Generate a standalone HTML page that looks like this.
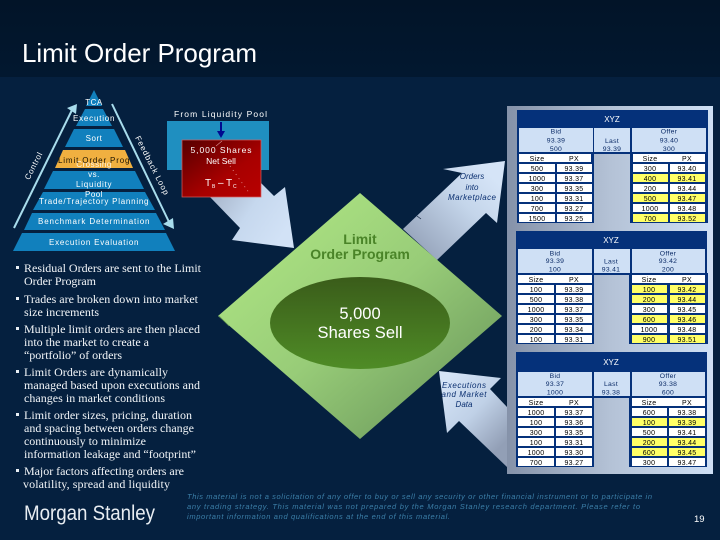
<!DOCTYPE html>
<html>
<head>
<meta charset="utf-8">
<title>Limit Order Program</title>
<style>
html,body{margin:0;padding:0;background:#05203f;}
svg{display:block;}
text{font-family:"Liberation Sans",sans-serif;}
.s{font-family:"Liberation Serif",serif;font-size:12px;fill:#f2f5f8;}
.p{font-size:8px;fill:#fff;text-anchor:middle;letter-spacing:.5px;}
.c{font-size:7px;fill:#000;text-anchor:middle;letter-spacing:.3px;}
.h{font-size:6.8px;fill:#0a2a66;text-anchor:middle;letter-spacing:.3px;}
.i{font-size:8px;font-style:italic;fill:#0a2f70;text-anchor:middle;}
.d{font-size:7.5px;font-style:italic;fill:#3c7fa8;}
.w{fill:#fff;}
.y{fill:#ffff66;}
.b{fill:#cfe0f5;}
.n{fill:#05317a;}
</style>
</head>
<body>
<svg width="720" height="540" viewBox="0 0 720 540" xmlns="http://www.w3.org/2000/svg">
<defs>
<linearGradient id="top" x1="0" y1="0" x2="0" y2="1"><stop offset="0" stop-color="#021428"/><stop offset="1" stop-color="#021830"/></linearGradient>
<linearGradient id="panel" x1="0" y1="0" x2="1" y2="0"><stop offset="0" stop-color="#8592a9"/><stop offset=".5" stop-color="#b4c2d6"/><stop offset="1" stop-color="#cfe0f5"/></linearGradient>
<linearGradient id="red" x1="0" y1="0" x2="1" y2="1"><stop offset="0" stop-color="#560000"/><stop offset=".6" stop-color="#a80000"/><stop offset="1" stop-color="#b80000"/></linearGradient>
<linearGradient id="green" x1="0.1" y1="0.1" x2="0.9" y2="0.9"><stop offset="0" stop-color="#aee583"/><stop offset=".5" stop-color="#98cc78"/><stop offset="1" stop-color="#6c9a5c"/></linearGradient>
<linearGradient id="oval" x1="0" y1="0" x2="0" y2="1"><stop offset="0" stop-color="#3a5c1a"/><stop offset="1" stop-color="#4f8c26"/></linearGradient>
<linearGradient id="a1" gradientUnits="userSpaceOnUse" x1="212" y1="195" x2="280" y2="240"><stop offset="0" stop-color="#a8b6cb"/><stop offset=".5" stop-color="#c6d8ee"/><stop offset="1" stop-color="#d2e2f6"/></linearGradient>
<linearGradient id="a2" gradientUnits="userSpaceOnUse" x1="420" y1="245" x2="490" y2="175"><stop offset="0" stop-color="#9aa8bf"/><stop offset=".6" stop-color="#c4d5ea"/><stop offset="1" stop-color="#d5e4f7"/></linearGradient>
<linearGradient id="a3" gradientUnits="userSpaceOnUse" x1="445" y1="380" x2="507" y2="440"><stop offset="0" stop-color="#d5e4f7"/><stop offset=".5" stop-color="#c0d1e7"/><stop offset="1" stop-color="#929fb6"/></linearGradient>
</defs>

<rect width="720" height="540" fill="#05203f"/>
<rect width="720" height="77" fill="url(#top)"/>
<text x="22" y="62" font-size="26" fill="#fff" textLength="235">Limit Order Program</text>

<!-- pyramid -->
<polygon points="94,90 102,106 86,106" fill="#1180bd"/>
<polygon points="85,109 103,109 112,126 76,126" fill="#1180bd"/>
<polygon points="74,129 114,129 123,147 65,147" fill="#1180bd"/>
<polygon points="63,150 125,150 133,168 55,168" fill="#f0b040"/>
<polygon points="53,171 135,171 144,189 44,189" fill="#1180bd"/>
<polygon points="43,192 145,192 155,210 33,210" fill="#1180bd"/>
<polygon points="32,213 156,213 165,230 24,230" fill="#1180bd"/>
<polygon points="22,233 166,233 175,251 13,251" fill="#1180bd"/>

<line x1="14" y1="228" x2="73" y2="108" stroke="#a8dcec" stroke-width="2"/>
<polygon points="77,104 67,108 76,114" fill="#a8dcec"/>
<line x1="112" y1="104" x2="170" y2="224" stroke="#a8dcec" stroke-width="2"/>
<polygon points="174,229 163,224 173,218" fill="#a8dcec"/>

<text class="p" x="94" y="105">TCA</text>
<text class="p" x="94" y="121" textLength="42">Execution</text>
<text class="p" x="94" y="141">Sort</text>
<text class="p" x="94" y="167" style="opacity:.85">Crossing</text>
<text class="p" x="94" y="163" style="fill:#1a1200" textLength="72">Limit Order Prog</text>
<text class="p" x="94" y="177">vs.</text>
<text class="p" x="94" y="187" textLength="36">Liquidity</text>
<text class="p" x="94" y="197">Pool</text>
<text class="p" x="94" y="204" textLength="110">Trade/Trajectory Planning</text>
<text class="p" x="94" y="224" textLength="112">Benchmark Determination</text>
<text class="p" x="94" y="245" textLength="90">Execution Evaluation</text>
<text class="p" transform="translate(36,167) rotate(-63)" style="letter-spacing:.6px">Control</text>
<text class="p" transform="translate(150,167) rotate(63)" style="letter-spacing:1.2px" textLength="66">Feedback Loop</text>

<!-- liquidity pool -->
<text x="174" y="117" font-size="8.5" fill="#fff" textLength="93">From Liquidity Pool</text>
<polygon points="210,197 240,228 232,240 294,248 285,187 274,196 261,183" fill="url(#a1)"/>
<rect x="167" y="121" width="102" height="49" fill="#1f8fc0"/>
<rect x="182" y="140" width="79" height="57" fill="url(#red)" stroke="#d86060" stroke-width=".7"/>
<line x1="221" y1="122" x2="221" y2="135" stroke="#000a90" stroke-width="2"/>
<polygon points="217,131 225,131 221,138" fill="#000a90"/>
<line x1="216" y1="146" x2="222" y2="141" stroke="#d89090" stroke-width=".6"/>
<line x1="230" y1="166" x2="250" y2="194" stroke="#f0b0b0" stroke-width=".7" stroke-dasharray="1 4"/>
<text x="221" y="153" font-size="8.5" fill="#fff" text-anchor="middle" textLength="61">5,000 Shares</text>
<text x="221" y="164" font-size="8.5" fill="#fff" text-anchor="middle">Net Sell</text>
<text x="205" y="186" font-size="10" fill="#fff">T</text><text x="212" y="188" font-size="5" fill="#fff">B</text>
<text x="218" y="186" font-size="10" fill="#fff">–</text>
<text x="226" y="186" font-size="10" fill="#fff">T</text><text x="233" y="188" font-size="5" fill="#fff">C</text>

<!-- arrows -->
<polygon points="403,229 462,173 443,169 505,161 497,223 486,213 437,260" fill="url(#a2)"/>
<line x1="417" y1="216" x2="421" y2="219" stroke="#10243f" stroke-width=".7"/>
<text class="i" x="472" y="179">Orders</text>
<text class="i" x="472" y="190">into</text>
<text class="i" x="472" y="200" textLength="48">Marketplace</text>
<polygon points="439,371 501,378 490,389 507,407 507,467 459,421 447,433" fill="url(#a3)"/>
<text class="i" x="464" y="388" textLength="44">Executions</text>
<text class="i" x="464" y="397" textLength="45">and Market</text>
<text class="i" x="464" y="407">Data</text>

<!-- diamond -->
<polygon points="360,193 502,316 360,439 218,316" fill="url(#green)"/>
<line x1="219" y1="316" x2="229" y2="326" stroke="#5d8f4c" stroke-width=".7"/>
<ellipse cx="360" cy="323" rx="90" ry="46" fill="url(#oval)"/>
<text x="360" y="244" font-size="14" font-weight="bold" fill="#4a8428" text-anchor="middle">Limit</text>
<text x="360" y="259" font-size="14" font-weight="bold" fill="#4a8428" text-anchor="middle">Order Program</text>
<text x="360" y="319" font-size="16.5" fill="#fff" text-anchor="middle">5,000</text>
<text x="360" y="338" font-size="16.5" fill="#fff" text-anchor="middle" textLength="85">Shares Sell</text>

<!-- panel -->
<rect x="507" y="106" width="206" height="368" fill="url(#panel)"/>

<!-- table 1 -->
<rect class="n" x="517" y="110" width="191" height="44"/>
<rect class="n" x="517" y="152" width="77" height="71"/>
<rect class="n" x="630" y="152" width="78" height="71"/>
<text x="612" y="122" font-size="8" fill="#fff" text-anchor="middle">XYZ</text>
<rect class="b" x="519" y="128" width="74" height="24"/><rect class="b" x="594" y="128" width="36" height="24"/><rect class="b" x="632" y="128" width="74" height="24"/>
<text class="h" x="556" y="133.5">Bid</text><text class="h" x="556" y="142.5">93.39</text><text class="h" x="556" y="151">500</text>
<text class="h" x="612" y="143">Last</text><text class="h" x="612" y="151">93.39</text>
<text class="h" x="669" y="133.5">Offer</text><text class="h" x="669" y="142.5">93.40</text><text class="h" x="669" y="151">300</text>
<rect class="w" x="519" y="154" width="72" height="8"/>
<rect class="w" x="519" y="164" width="36" height="8"/><rect class="w" x="557" y="164" width="35" height="8"/>
<rect class="w" x="519" y="174" width="36" height="8"/><rect class="w" x="557" y="174" width="35" height="8"/>
<rect class="w" x="519" y="184" width="36" height="8"/><rect class="w" x="557" y="184" width="35" height="8"/>
<rect class="w" x="519" y="194" width="36" height="8"/><rect class="w" x="557" y="194" width="35" height="8"/>
<rect class="w" x="519" y="204" width="36" height="8"/><rect class="w" x="557" y="204" width="35" height="8"/>
<rect class="w" x="519" y="214" width="36" height="8"/><rect class="w" x="557" y="214" width="35" height="8"/>
<rect class="w" x="633" y="154" width="72" height="8"/>
<rect class="w" x="633" y="164" width="35" height="8"/><rect class="w" x="670" y="164" width="35" height="8"/>
<rect class="y" x="633" y="174" width="35" height="8"/><rect class="y" x="670" y="174" width="35" height="8"/>
<rect class="w" x="633" y="184" width="35" height="8"/><rect class="w" x="670" y="184" width="35" height="8"/>
<rect class="y" x="633" y="194" width="35" height="8"/><rect class="y" x="670" y="194" width="35" height="8"/>
<rect class="w" x="633" y="204" width="35" height="8"/><rect class="w" x="670" y="204" width="35" height="8"/>
<rect class="y" x="633" y="214" width="35" height="8"/><rect class="y" x="670" y="214" width="35" height="8"/>
<text class="c" x="537" y="161">Size</text><text class="c" x="574" y="161">PX</text>
<text class="c" x="537" y="171">500</text><text class="c" x="574" y="171">93.39</text>
<text class="c" x="537" y="181">1000</text><text class="c" x="574" y="181">93.37</text>
<text class="c" x="537" y="191">300</text><text class="c" x="574" y="191">93.35</text>
<text class="c" x="537" y="201">100</text><text class="c" x="574" y="201">93.31</text>
<text class="c" x="537" y="211">700</text><text class="c" x="574" y="211">93.27</text>
<text class="c" x="537" y="221">1500</text><text class="c" x="574" y="221">93.25</text>
<text class="c" x="650" y="161">Size</text><text class="c" x="687" y="161">PX</text>
<text class="c" x="650" y="171">300</text><text class="c" x="687" y="171">93.40</text>
<text class="c" x="650" y="181">400</text><text class="c" x="687" y="181">93.41</text>
<text class="c" x="650" y="191">200</text><text class="c" x="687" y="191">93.44</text>
<text class="c" x="650" y="201">500</text><text class="c" x="687" y="201">93.47</text>
<text class="c" x="650" y="211">1000</text><text class="c" x="687" y="211">93.48</text>
<text class="c" x="650" y="221">700</text><text class="c" x="687" y="221">93.52</text>

<!-- table 2 -->
<rect class="n" x="516" y="231" width="191" height="44"/>
<rect class="n" x="516" y="273" width="78" height="71"/>
<rect class="n" x="629" y="273" width="79" height="71"/>
<text x="611" y="243" font-size="8" fill="#fff" text-anchor="middle">XYZ</text>
<rect class="b" x="518" y="249" width="74" height="24"/><rect class="b" x="594" y="249" width="36" height="24"/><rect class="b" x="632" y="249" width="73" height="24"/>
<text class="h" x="555" y="255.5">Bid</text><text class="h" x="555" y="263">93.39</text><text class="h" x="555" y="271.5">100</text>
<text class="h" x="611" y="263.5">Last</text><text class="h" x="611" y="271.5">93.41</text>
<text class="h" x="668" y="255.5">Offer</text><text class="h" x="668" y="263">93.42</text><text class="h" x="668" y="271.5">200</text>
<rect class="w" x="518" y="275" width="74" height="8"/>
<rect class="w" x="518" y="285" width="36" height="8"/><rect class="w" x="556" y="285" width="36" height="8"/>
<rect class="w" x="518" y="295" width="36" height="8"/><rect class="w" x="556" y="295" width="36" height="8"/>
<rect class="w" x="518" y="305" width="36" height="8"/><rect class="w" x="556" y="305" width="36" height="8"/>
<rect class="w" x="518" y="315" width="36" height="8"/><rect class="w" x="556" y="315" width="36" height="8"/>
<rect class="w" x="518" y="325" width="36" height="8"/><rect class="w" x="556" y="325" width="36" height="8"/>
<rect class="w" x="518" y="335" width="36" height="8"/><rect class="w" x="556" y="335" width="36" height="8"/>
<rect class="w" x="632" y="275" width="73" height="8"/>
<rect class="y" x="632" y="285" width="35" height="8"/><rect class="y" x="670" y="285" width="35" height="8"/>
<rect class="y" x="632" y="295" width="35" height="8"/><rect class="y" x="670" y="295" width="35" height="8"/>
<rect class="w" x="632" y="305" width="35" height="8"/><rect class="w" x="670" y="305" width="35" height="8"/>
<rect class="y" x="632" y="315" width="35" height="8"/><rect class="y" x="670" y="315" width="35" height="8"/>
<rect class="w" x="632" y="325" width="35" height="8"/><rect class="w" x="670" y="325" width="35" height="8"/>
<rect class="y" x="632" y="335" width="35" height="8"/><rect class="y" x="670" y="335" width="35" height="8"/>
<text class="c" x="536" y="282">Size</text><text class="c" x="574" y="282">PX</text>
<text class="c" x="536" y="292">100</text><text class="c" x="574" y="292">93.39</text>
<text class="c" x="536" y="302">500</text><text class="c" x="574" y="302">93.38</text>
<text class="c" x="536" y="312">1000</text><text class="c" x="574" y="312">93.37</text>
<text class="c" x="536" y="322">300</text><text class="c" x="574" y="322">93.35</text>
<text class="c" x="536" y="332">200</text><text class="c" x="574" y="332">93.34</text>
<text class="c" x="536" y="342">100</text><text class="c" x="574" y="342">93.31</text>
<text class="c" x="649" y="282">Size</text><text class="c" x="687" y="282">PX</text>
<text class="c" x="649" y="292">100</text><text class="c" x="687" y="292">93.42</text>
<text class="c" x="649" y="302">200</text><text class="c" x="687" y="302">93.44</text>
<text class="c" x="649" y="312">300</text><text class="c" x="687" y="312">93.45</text>
<text class="c" x="649" y="322">600</text><text class="c" x="687" y="322">93.46</text>
<text class="c" x="649" y="332">1000</text><text class="c" x="687" y="332">93.48</text>
<text class="c" x="649" y="342">900</text><text class="c" x="687" y="342">93.51</text>

<!-- table 3 -->
<rect class="n" x="516" y="352" width="191" height="46"/>
<rect class="n" x="516" y="396" width="78" height="71"/>
<rect class="n" x="629" y="396" width="78" height="71"/>
<text x="611" y="365" font-size="8" fill="#fff" text-anchor="middle">XYZ</text>
<rect class="b" x="518" y="372" width="74" height="24"/><rect class="b" x="594" y="372" width="36" height="24"/><rect class="b" x="632" y="372" width="73" height="24"/>
<text class="h" x="555" y="378">Bid</text><text class="h" x="555" y="386">93.37</text><text class="h" x="555" y="394.5">1000</text>
<text class="h" x="611" y="386">Last</text><text class="h" x="611" y="394.5">93.38</text>
<text class="h" x="668" y="378">Offer</text><text class="h" x="668" y="386">93.38</text><text class="h" x="668" y="394.5">600</text>
<rect class="w" x="518" y="398" width="74" height="8"/>
<rect class="w" x="518" y="408" width="36" height="8"/><rect class="w" x="556" y="408" width="36" height="8"/>
<rect class="w" x="518" y="418" width="36" height="8"/><rect class="w" x="556" y="418" width="36" height="8"/>
<rect class="w" x="518" y="428" width="36" height="8"/><rect class="w" x="556" y="428" width="36" height="8"/>
<rect class="w" x="518" y="438" width="36" height="8"/><rect class="w" x="556" y="438" width="36" height="8"/>
<rect class="w" x="518" y="448" width="36" height="8"/><rect class="w" x="556" y="448" width="36" height="8"/>
<rect class="w" x="518" y="458" width="36" height="8"/><rect class="w" x="556" y="458" width="36" height="8"/>
<rect class="w" x="632" y="398" width="73" height="8"/>
<rect class="w" x="632" y="408" width="35" height="8"/><rect class="w" x="669" y="408" width="36" height="8"/>
<rect class="y" x="632" y="418" width="35" height="8"/><rect class="y" x="669" y="418" width="36" height="8"/>
<rect class="w" x="632" y="428" width="35" height="8"/><rect class="w" x="669" y="428" width="36" height="8"/>
<rect class="y" x="632" y="438" width="35" height="8"/><rect class="y" x="669" y="438" width="36" height="8"/>
<rect class="y" x="632" y="448" width="35" height="8"/><rect class="y" x="669" y="448" width="36" height="8"/>
<rect class="w" x="632" y="458" width="35" height="8"/><rect class="w" x="669" y="458" width="36" height="8"/>
<text class="c" x="536" y="405">Size</text><text class="c" x="574" y="405">PX</text>
<text class="c" x="536" y="415">1000</text><text class="c" x="574" y="415">93.37</text>
<text class="c" x="536" y="425">100</text><text class="c" x="574" y="425">93.36</text>
<text class="c" x="536" y="435">300</text><text class="c" x="574" y="435">93.35</text>
<text class="c" x="536" y="445">100</text><text class="c" x="574" y="445">93.31</text>
<text class="c" x="536" y="455">1000</text><text class="c" x="574" y="455">93.30</text>
<text class="c" x="536" y="465">700</text><text class="c" x="574" y="465">93.27</text>
<text class="c" x="649" y="405">Size</text><text class="c" x="687" y="405">PX</text>
<text class="c" x="649" y="415">600</text><text class="c" x="687" y="415">93.38</text>
<text class="c" x="649" y="425">100</text><text class="c" x="687" y="425">93.39</text>
<text class="c" x="649" y="435">500</text><text class="c" x="687" y="435">93.41</text>
<text class="c" x="649" y="445">200</text><text class="c" x="687" y="445">93.44</text>
<text class="c" x="649" y="455">600</text><text class="c" x="687" y="455">93.45</text>
<text class="c" x="649" y="465">300</text><text class="c" x="687" y="465">93.47</text>

<!-- bullets -->
<rect x="16" y="266" width="3" height="3" fill="#e8eef4"/>
<text class="s" x="24" y="272" textLength="177">Residual Orders are sent to the Limit</text>
<text class="s" x="24" y="285" textLength="72">Order Program</text>
<rect x="16" y="297" width="3" height="3" fill="#e8eef4"/>
<text class="s" x="24" y="303" textLength="174">Trades are broken down into market</text>
<text class="s" x="24" y="316" textLength="75">size increments</text>
<rect x="16" y="327" width="3" height="3" fill="#e8eef4"/>
<text class="s" x="24" y="333" textLength="176">Multiple limit orders are then placed</text>
<text class="s" x="24" y="346" textLength="125">into the market to create a</text>
<text class="s" x="24" y="359" textLength="98">“portfolio” of orders</text>
<rect x="16" y="370" width="3" height="3" fill="#e8eef4"/>
<text class="s" x="24" y="376" textLength="144">Limit Orders are dynamically</text>
<text class="s" x="24" y="389" textLength="176">managed based upon executions and</text>
<text class="s" x="24" y="402" textLength="141">changes in market conditions</text>
<rect x="16" y="413" width="3" height="3" fill="#e8eef4"/>
<text class="s" x="24" y="419" textLength="168">Limit order sizes, pricing, duration</text>
<text class="s" x="24" y="432" textLength="170">and spacing between orders change</text>
<text class="s" x="24" y="445" textLength="122">continuously to minimize</text>
<text class="s" x="24" y="458" textLength="172">information leakage and “footprint”</text>
<rect x="16" y="469" width="3" height="3" fill="#e8eef4"/>
<text class="s" x="24" y="475" textLength="160">Major factors affecting orders are</text>
<text class="s" x="23" y="488" textLength="147">volatility, spread and liquidity</text>

<!-- footer -->
<text x="24" y="520" font-size="21" fill="#e8edf2" textLength="131" lengthAdjust="spacingAndGlyphs">Morgan Stanley</text>
<text class="d" x="187" y="499" textLength="465">This material is not a solicitation of any offer to buy or sell any security or other financial instrument or to participate in</text>
<text class="d" x="187" y="509" textLength="453">any trading strategy.  This material was not prepared by the Morgan Stanley research department.  Please refer to</text>
<text class="d" x="187" y="519" textLength="263">important information and qualifications at the end of this material.</text>
<text x="694" y="522" font-size="9.5" fill="#fff">19</text>
</svg>
</body>
</html>
